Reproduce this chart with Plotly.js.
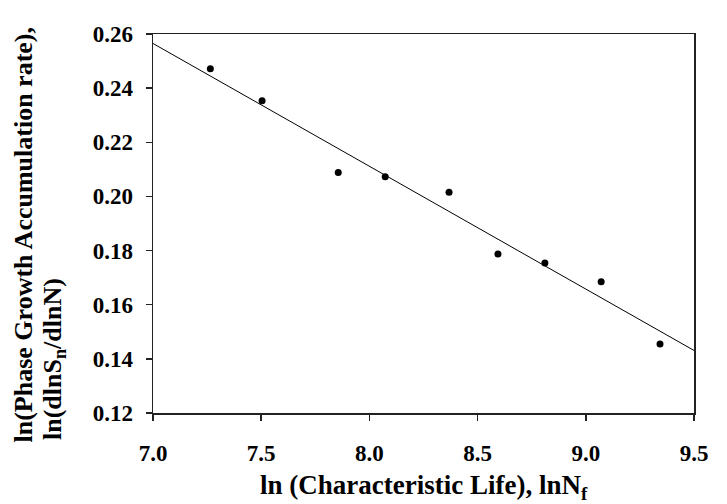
<!DOCTYPE html>
<html>
<head>
<meta charset="utf-8">
<script src="https://cdn.plot.ly/plotly-3.0.1.min.js"></script>
<style>html,body{margin:0;padding:0;background:#fff;}#chart{width:727px;height:504px;}</style>
</head>
<body>
<div id="chart"></div>
<script>
// Measured data points
var lnNf = [7.265, 7.504, 7.856, 8.073, 8.368, 8.594, 8.811, 9.071, 9.343];
var lnRate = [0.2472, 0.2353, 0.2088, 0.2073, 0.2015, 0.1787, 0.1754, 0.1685, 0.1455];
// Regression line endpoints
var fitX = [7.0, 9.5];
var fitY = [0.2565, 0.1431];
var xTicks = [7.0, 7.5, 8.0, 8.5, 9.0, 9.5];
var xTickLabels = ['7.0', '7.5', '8.0', '8.5', '9.0', '9.5'];
var yTicks = [0.12, 0.14, 0.16, 0.18, 0.20, 0.22, 0.24, 0.26];
var yTickLabels = ['0.12', '0.14', '0.16', '0.18', '0.20', '0.22', '0.24', '0.26'];

var fontFam = '"Liberation Serif", "Times New Roman", serif';

var traces = [
  {x: fitX, y: fitY, mode: 'lines', type: 'scatter',
   line: {color: '#000', width: 1}, hoverinfo: 'skip', showlegend: false},
  {x: lnNf, y: lnRate, mode: 'markers', type: 'scatter',
   marker: {color: '#000', size: 7, symbol: 'circle'}, showlegend: false}
];

function bold(arr) { return arr.map(function (s) { return '<b>' + s + '</b>'; }); }

var axisCommon = {
  showgrid: false, zeroline: false, showline: true, linecolor: '#222', linewidth: 1.5,
  mirror: true, ticks: 'outside', ticklen: 6, tickwidth: 1.5, tickcolor: '#222',
  tickfont: {family: fontFam, size: 23, color: '#000'}
};

var layout = {
  width: 727, height: 504,
  margin: {l: 153, r: 33, t: 34, b: 91, pad: 0},
  paper_bgcolor: '#fff', plot_bgcolor: '#fff',
  xaxis: Object.assign({}, axisCommon, {
    range: [7, 9.5], tickvals: xTicks, ticktext: bold(xTickLabels), ticklabelstandoff: 13
  }),
  yaxis: Object.assign({}, axisCommon, {
    range: [0.12, 0.26], tickvals: yTicks, ticktext: bold(yTickLabels), ticklabelstandoff: 8
  }),
  annotations: [
    {text: '<b>ln (Characteristic Life), lnN<sub>f</sub></b>', xref: 'paper', yref: 'paper',
     x: 0.5, y: -0.195, xanchor: 'center', yanchor: 'middle', showarrow: false,
     font: {family: fontFam, size: 27, color: '#000'}},
    {text: '<b>ln(Phase Growth Accumulation rate),</b>', xref: 'paper', yref: 'paper',
     x: -0.2403, y: 0.471, xanchor: 'center', yanchor: 'middle', textangle: -90, showarrow: false,
     font: {family: fontFam, size: 26, color: '#000'}},
    {text: '<b>ln(dlnS<sub>n</sub>/dlnN)</b>', xref: 'paper', yref: 'paper',
     x: -0.1830, y: -0.0765, xanchor: 'center', yanchor: 'bottom', textangle: -90, showarrow: false,
     font: {family: fontFam, size: 26, color: '#000'}}
  ]
};

Plotly.newPlot('chart', traces, layout, {displayModeBar: false, staticPlot: true});
</script>
</body>
</html>
